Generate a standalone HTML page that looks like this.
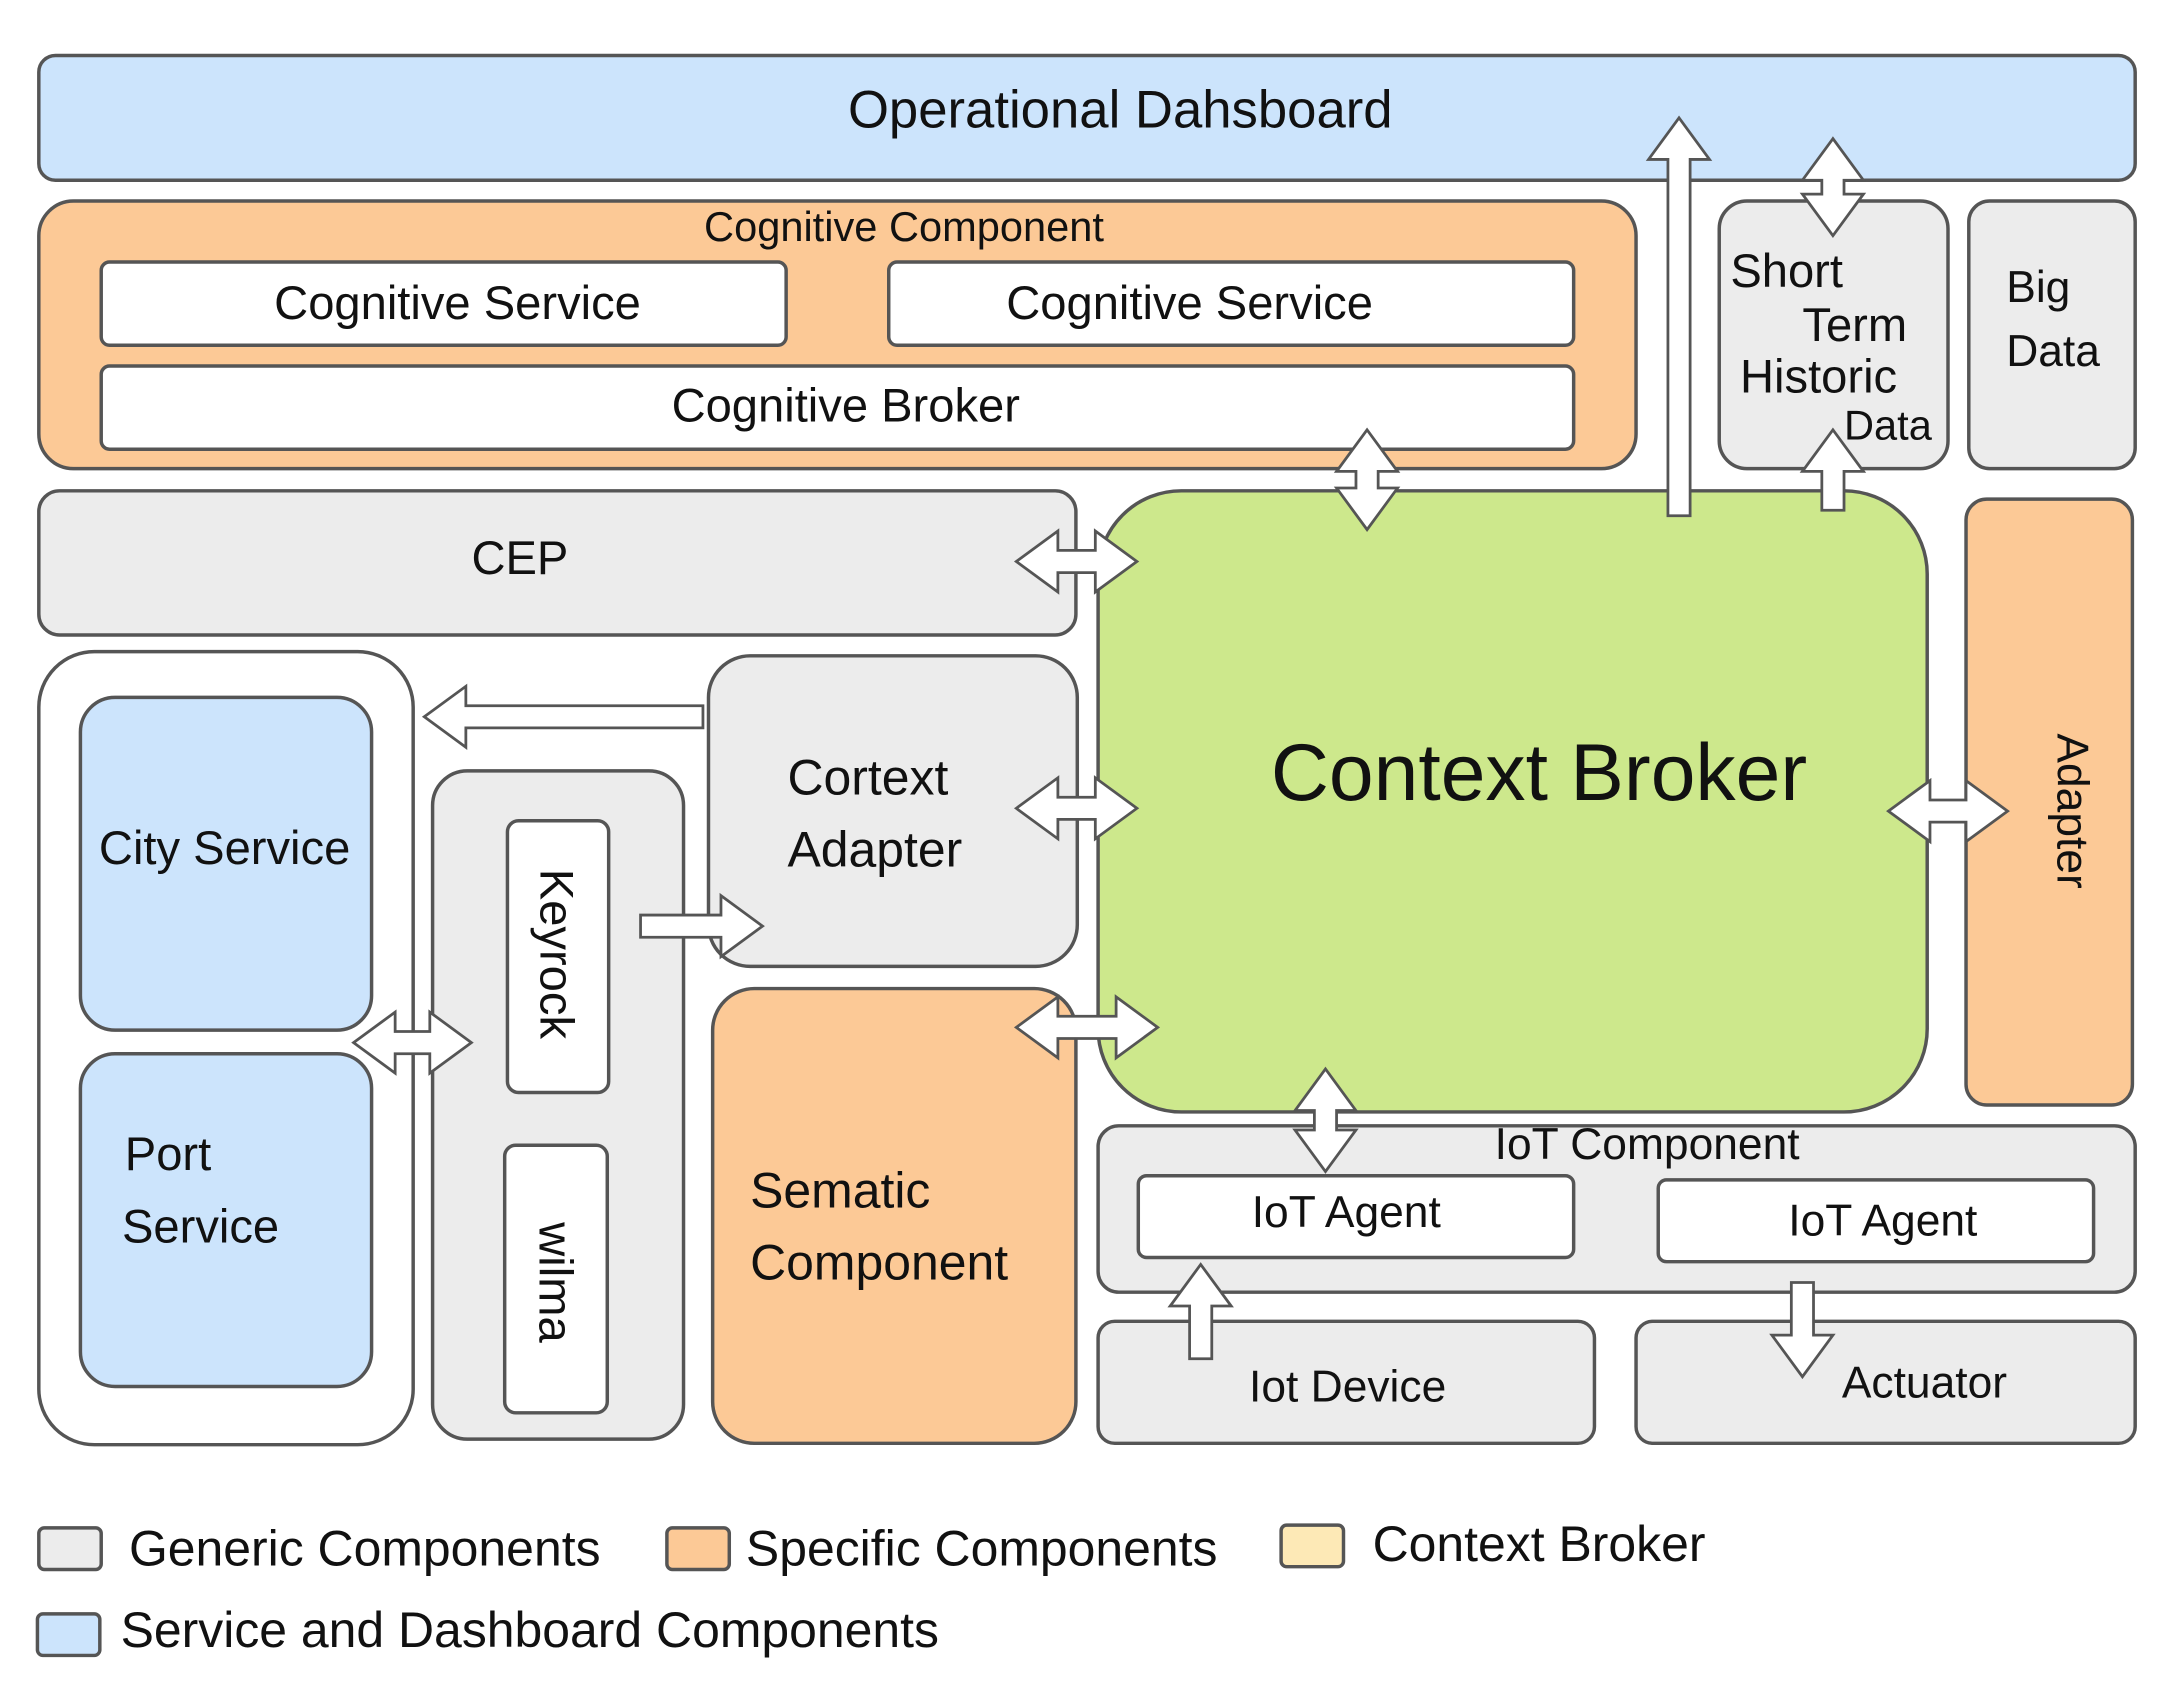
<!DOCTYPE html>
<html><head><meta charset="utf-8"><style>
html,body{margin:0;padding:0;background:#fff}
svg{display:block}
text{font-family:"Liberation Sans","DejaVu Sans",sans-serif;fill:#111}
</style></head><body>
<svg width="2174" height="1698" viewBox="0 0 1568 1224.7" preserveAspectRatio="none" xmlns="http://www.w3.org/2000/svg">
<g stroke="#555" stroke-width="2.5">
<rect x="28" y="40" width="1512" height="90" rx="12" fill="#cce4fc"/>
<rect x="28" y="145" width="1152" height="193" rx="25" fill="#fcc996"/>
<rect x="73" y="189" width="494" height="60" rx="6" fill="#fff"/>
<rect x="641" y="189" width="494" height="60" rx="6" fill="#fff"/>
<rect x="73" y="264" width="1062" height="60" rx="6" fill="#fff"/>
<rect x="1240" y="145" width="165" height="193" rx="20" fill="#ececec"/>
<rect x="1420" y="145" width="120" height="193" rx="15" fill="#ececec"/>
<rect x="28" y="354" width="748" height="104" rx="15" fill="#ececec"/>
<rect x="792" y="354" width="598" height="448" rx="60" fill="#cde88c"/>
<rect x="1418" y="360" width="120" height="437" rx="15" fill="#fcc996"/>
<rect x="28" y="470" width="270" height="572" rx="40" fill="#fff"/>
<rect x="58" y="503" width="210" height="240" rx="25" fill="#cce4fc"/>
<rect x="58" y="760" width="210" height="240" rx="25" fill="#cce4fc"/>
<rect x="312" y="556" width="181" height="482" rx="25" fill="#ececec"/>
<rect x="366" y="592" width="73" height="196" rx="8" fill="#fff"/>
<rect x="364" y="826" width="74" height="193" rx="8" fill="#fff"/>
<rect x="511" y="473" width="266" height="224" rx="30" fill="#ececec"/>
<rect x="514" y="713" width="262" height="328" rx="30" fill="#fcc996"/>
<rect x="792" y="812" width="748" height="120" rx="15" fill="#ececec"/>
<rect x="821" y="848" width="314" height="59" rx="6" fill="#fff"/>
<rect x="1196" y="851" width="314" height="59" rx="6" fill="#fff"/>
<rect x="792" y="953" width="358" height="88" rx="12" fill="#ececec"/>
<rect x="1180" y="953" width="360" height="88" rx="12" fill="#ececec"/>
<rect x="28" y="1102" width="45" height="30" rx="4" fill="#ececec"/>
<rect x="481" y="1102" width="45" height="30" rx="4" fill="#fcc996"/>
<rect x="924" y="1100" width="45" height="30" rx="4" fill="#fde9b6"/>
<rect x="27" y="1164" width="45" height="30" rx="4" fill="#cce4fc"/>
</g>
<g stroke="#555" stroke-width="2" fill="#fff" stroke-linejoin="miter">
<path d="M733 405 L763 383 L763 397 L790 397 L790 383 L820 405 L790 427 L790 413 L763 413 L763 427 Z"/>
<path d="M733 583 L763 561 L763 575 L790 575 L790 561 L820 583 L790 605 L790 591 L763 591 L763 605 Z"/>
<path d="M733 741 L763 719 L763 733 L805 733 L805 719 L835 741 L805 763 L805 749 L763 749 L763 763 Z"/>
<path d="M1362 585 L1392 563 L1392 577 L1418 577 L1418 563 L1448 585 L1418 607 L1418 593 L1392 593 L1392 607 Z"/>
<path d="M255 752 L285 730 L285 744 L310 744 L310 730 L340 752 L310 774 L310 760 L285 760 L285 774 Z"/>
<path d="M986 310 L964 340 L978 340 L978 352 L964 352 L986 382 L1008 352 L994 352 L994 340 L1008 340 Z"/>
<path d="M956 771 L934 801 L948 801 L948 815 L934 815 L956 845 L978 815 L964 815 L964 801 L978 801 Z"/>
<path d="M1322 100 L1300 130 L1314 130 L1314 140 L1300 140 L1322 170 L1344 140 L1330 140 L1330 130 L1344 130 Z"/>
<path d="M1314 368 L1314 340 L1300 340 L1322 310 L1344 340 L1330 340 L1330 368 Z"/>
<path d="M1203 372 L1203 115 L1189 115 L1211 85 L1233 115 L1219 115 L1219 372 Z"/>
<path d="M507 509 L336 509 L336 495 L306 517 L336 539 L336 525 L507 525 Z"/>
<path d="M462 660 L520 660 L520 646 L550 668 L520 690 L520 676 L462 676 Z"/>
<path d="M858 980 L858 942 L844 942 L866 912 L888 942 L874 942 L874 980 Z"/>
<path d="M1292 925 L1292 963 L1278 963 L1300 993 L1322 963 L1308 963 L1308 925 Z"/>
</g>
<g font-size="34">
<text x="808" y="92" text-anchor="middle" font-size="38">Operational Dahsboard</text>
<text x="652" y="174" text-anchor="middle" font-size="30">Cognitive Component</text>
<text x="330" y="230" text-anchor="middle">Cognitive Service</text>
<text x="858" y="230" text-anchor="middle">Cognitive Service</text>
<text x="610" y="304" text-anchor="middle">Cognitive Broker</text>
<text x="1248" y="207">Short</text>
<text x="1300" y="246">Term</text>
<text x="1255" y="283">Historic</text>
<text x="1330" y="317" font-size="30">Data</text>
<text x="1447" y="218" font-size="32">Big</text>
<text x="1447" y="264" font-size="32">Data</text>
<text x="375" y="414" text-anchor="middle">CEP</text>
<text x="1110" y="577" text-anchor="middle" font-size="58">Context Broker</text>
<text transform="translate(1484,585) rotate(90)" text-anchor="middle" font-size="32">Adapter</text>
<text x="162" y="623" text-anchor="middle">City Service</text>
<text x="90" y="844">Port</text>
<text x="88" y="896">Service</text>
<text transform="translate(390,688) rotate(90)" text-anchor="middle">Keyrock</text>
<text transform="translate(389,925) rotate(90)" text-anchor="middle">wilma</text>
<text x="568" y="573" font-size="36">Cortext</text>
<text x="568" y="625" font-size="36">Adapter</text>
<text x="541" y="871" font-size="36">Sematic</text>
<text x="541" y="923" font-size="36">Component</text>
<text x="1188" y="836" text-anchor="middle" font-size="32">IoT  Component</text>
<text x="971" y="885" text-anchor="middle" font-size="32">IoT Agent</text>
<text x="1358" y="891" text-anchor="middle" font-size="32">IoT Agent</text>
<text x="972" y="1011" text-anchor="middle" font-size="32">Iot Device</text>
<text x="1388" y="1008" text-anchor="middle" font-size="32">Actuator</text>
<text x="93" y="1129" font-size="36">Generic Components</text>
<text x="538" y="1129" font-size="36">Specific Components</text>
<text x="990" y="1126" font-size="36">Context Broker</text>
<text x="87" y="1188" font-size="36">Service and Dashboard Components</text>
</g>
</svg>
</body></html>
